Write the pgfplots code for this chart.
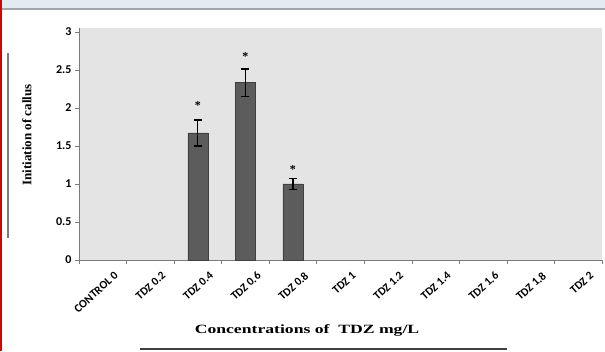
\documentclass[border=0pt]{standalone}
\usepackage{pgfplots}
\pgfplotsset{compat=1.18}
\usepackage{graphicx}
\usepackage{fontspec}
\setmainfont{Liberation Serif}
\newfontfamily\calibri{Carlito}
\definecolor{plotbg}{HTML}{E4E4E4}
\definecolor{barfill}{HTML}{5C5C5C}
\definecolor{baredge}{HTML}{404040}
\definecolor{bandblue}{HTML}{E3EAF2}
\definecolor{bandline}{HTML}{A2A6AA}
\definecolor{axisgray}{HTML}{7A7A7A}
\begin{document}
\begin{tikzpicture}
\path[use as bounding box] (0pt,0pt) rectangle (605pt,351pt);
\fill[white] (0pt,0pt) rectangle (605pt,351pt);
\fill[bandblue] (0pt,343pt) rectangle (605pt,351pt);
\fill[bandline] (0pt,340.5pt) rectangle (605pt,343pt);
\fill[red!85!black] (0pt,0pt) rectangle (2pt,351pt);
\draw[axisgray, line width=1.5pt] (8pt,113pt) -- (8pt,298pt);
\draw[black!75, line width=1.5pt] (140pt,2pt) -- (507pt,2pt);
\begin{axis}[
  at={(79pt,91pt)}, anchor=south west,
  scale only axis,
  width=523pt, height=232pt,
  xmin=-0.5, xmax=10.5,
  ymin=0, ymax=3.05,
  axis background/.style={fill=plotbg},
  axis x line*=bottom, axis y line*=left,
  axis line style={axisgray, line width=0.8pt},
  every outer x axis line/.append style={-},
  every outer y axis line/.append style={-},
  xtick={0,...,10},
  xticklabels={CONTROL 0,TDZ 0.2,TDZ 0.4,TDZ 0.6,TDZ 0.8,TDZ 1,TDZ 1.2,TDZ 1.4,TDZ 1.6,TDZ 1.8,TDZ 2},
  major x tick style={draw=none},
  minor xtick={-0.5,0.5,...,10.5},
  minor x tick style={axisgray, line width=0.6pt},
  minor tick length=4pt,
  ytick={0,0.5,1,1.5,2,2.5,3},
  yticklabels={0,0.5,1,1.5,2,2.5,3},
  y tick style={axisgray, line width=0.6pt},
  major tick length=4pt,
  tick align=outside,
  xticklabel style={font=\calibri\bfseries\fontsize{11.5}{12}\selectfont, rotate=42, anchor=north east, inner sep=0.5pt, yshift=-12pt, xshift=4pt},
  yticklabel style={font=\calibri\bfseries\fontsize{12}{13}\selectfont},
  /pgf/number format/assume math mode=true,
  clip=false,
]
\addplot[ybar, bar width=20pt, fill=barfill, draw=baredge, line width=0.6pt,
  error bars/.cd, y dir=both, y explicit,
  error bar style={black, line width=1.2pt},
  error mark options={rotate=90, mark size=4pt, black, line width=1.2pt}]
  coordinates {
  (2,1.67) +- (0,0.17) (3,2.33) +- (0,0.18) (4,1.0) +- (0,0.07)};
\node[font=\fontsize{12}{12}\selectfont\bfseries] at (axis cs:2,2.03) {*};
\node[font=\fontsize{12}{12}\selectfont\bfseries] at (axis cs:3,2.68) {*};
\node[font=\fontsize{12}{12}\selectfont\bfseries] at (axis cs:4,1.19) {*};
\end{axis}
\node[rotate=90, font=\fontsize{13}{15}\selectfont\bfseries] at (27pt,216pt) {Initiation of callus};
\node[font=\fontsize{12.6}{15}\selectfont\bfseries] at (307pt,21pt) {\scalebox{1.4}[1]{Concentrations of~~TDZ mg/L}};
\end{tikzpicture}
\end{document}
